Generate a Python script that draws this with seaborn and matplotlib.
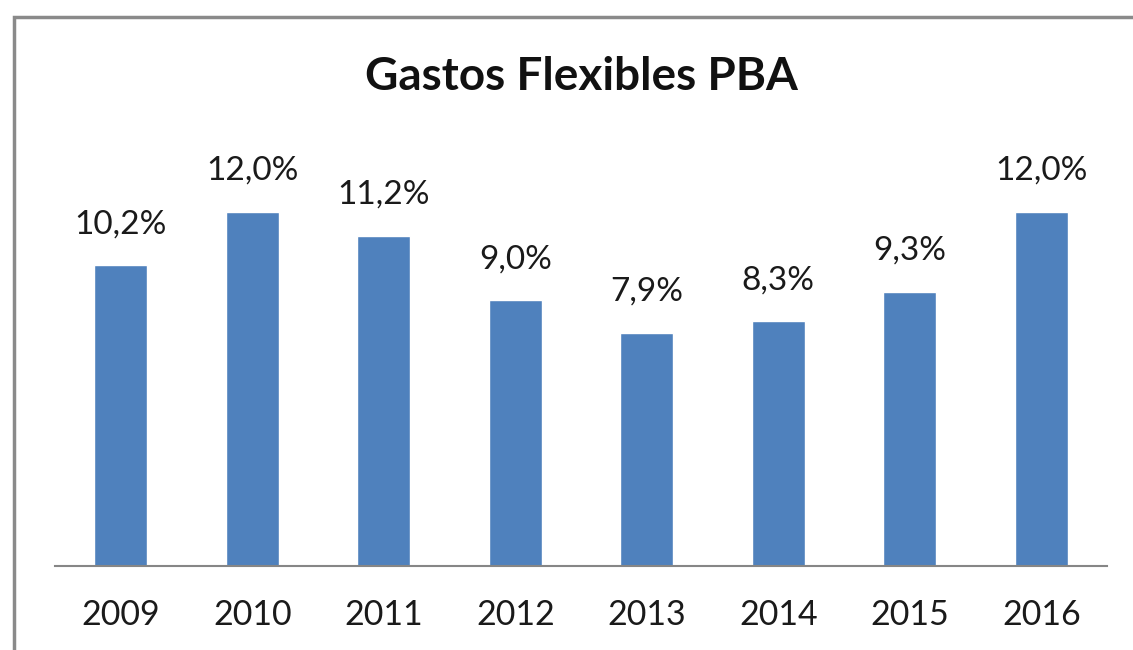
import matplotlib
matplotlib.use("Agg")
import matplotlib.pyplot as plt
from matplotlib.patches import Rectangle
import seaborn as sns
import pandas as pd

years = ["2009", "2010", "2011", "2012", "2013", "2014", "2015", "2016"]
shares = [10.2, 12.0, 11.2, 9.0, 7.9, 8.3, 9.3, 12.0]
title = "Gastos Flexibles PBA"

sns.set_theme(style="white")
plt.rcParams["font.family"] = ["Lato", "DejaVu Sans"]

df = pd.DataFrame({"year": years, "share": shares})

W, H = 1133, 650
fig = plt.figure(figsize=(W / 100, H / 100), dpi=100)
fig.patch.set_facecolor("white")

# plot area in pixel coordinates
left_px, right_px, base_px, top_px = 55, 1107, 566, 153
ax = fig.add_axes([left_px / W, (H - base_px) / H,
                   (right_px - left_px) / W, (base_px - top_px) / H])

sns.barplot(data=df, x="year", y="share", color="#4F81BD", width=0.4,
            saturation=1, ax=ax)
ax.set_ylim(0, 14)
ax.set_xlim(-0.5, len(years) - 0.5)

for p, v in zip(ax.patches, shares):
    ax.annotate(f"{v:.1f}%".replace(".", ","),
                (p.get_x() + p.get_width() / 2, v),
                xytext=(0, 26), textcoords="offset pixels",
                ha="center", va="bottom", fontsize=24, color="#1a1a1a")

for s in ["top", "right", "left"]:
    ax.spines[s].set_visible(False)
ax.spines["bottom"].set_color("#868686")
ax.spines["bottom"].set_linewidth(1.5)
ax.set_yticks([])
ax.set_xlabel("")
ax.set_ylabel("")
ax.tick_params(axis="x", length=0, pad=24, labelsize=24.5, labelcolor="#1a1a1a")

fig.text(581 / W, 1 - 77 / H, title, ha="center", va="center",
         fontsize=33, fontweight="bold", color="#111111")

# outer chart frame, running off the right and bottom edges
frame = Rectangle((13.5 / W, -0.2), 1.5, 1.2 - 16.5 / H,
                  transform=fig.transFigure, fill=False,
                  edgecolor="#8a8a8a", linewidth=2.5, clip_on=False)
fig.patches.append(frame)

fig.savefig("out.png", dpi=100, facecolor="white")
